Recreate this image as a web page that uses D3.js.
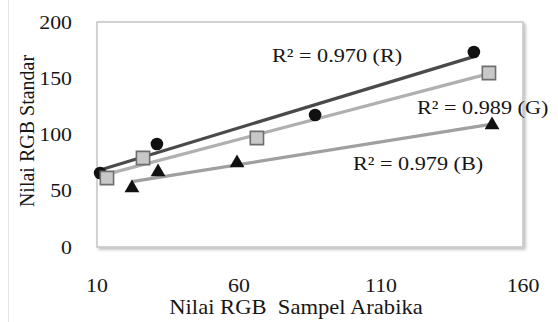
<!DOCTYPE html>
<html>
<head>
<meta charset="utf-8">
<script src="https://cdn.jsdelivr.net/npm/d3@7"></script>
<style>
  body { margin: 0; background: #fff; }
  text { font-family: "Liberation Serif", "Times New Roman", serif; fill: #161616; }
</style>
</head>
<body>
<div id="chart"></div>
<script>
'use strict';

// Data
const xR = [11.1, 31.1, 86.8, 142.7];
const yR = [65.8, 91.6, 117.3, 173.3];
const xG = [13.5, 26.2, 66.3, 148.0];
const yG = [61.3, 79.1, 96.9, 154.7];
const xB = [22.3, 31.5, 59.3, 149.1];
const yB = [52.4, 66.7, 74.7, 108.4];
const xTicks = [10, 60, 110, 160];
const yTicks = [0, 50, 100, 150, 200];
const r2Labels = ['R\u00b2 = 0.970 (R)', 'R\u00b2 = 0.989 (G)', 'R\u00b2 = 0.979 (B)'];

const w = 558, h = 322;
const box = {left: 97, top: 22, right: 523, bottom: 247};

const svg = d3.select('#chart').append('svg')
    .attr('width', w)
    .attr('height', h);

// Scales
const x = d3.scaleLinear().domain([10, 160]).range([box.left, box.right]);
const y = d3.scaleLinear().domain([0, 200]).range([box.bottom, box.top]);

// faint outer frame line on the left
svg.append('line')
    .attr('x1', 8.5).attr('x2', 8.5)
    .attr('y1', 0).attr('y2', h)
    .attr('stroke', '#e4e4e4');

// Plot box with shadow
const defs = svg.append('defs');
const f = defs.append('filter').attr('id', 'shadow')
    .attr('x', '-5%').attr('y', '-5%').attr('width', '115%').attr('height', '115%');
f.append('feDropShadow')
    .attr('dx', 2).attr('dy', 2)
    .attr('stdDeviation', 1.5)
    .attr('flood-color', '#000')
    .attr('flood-opacity', 0.25);

svg.append('rect')
    .attr('x', box.left)
    .attr('y', box.top)
    .attr('width', box.right - box.left)
    .attr('height', box.bottom - box.top)
    .attr('fill', '#fff')
    .attr('stroke', '#c4c4c4')
    .attr('stroke-width', 1.5)
    .attr('filter', 'url(#shadow)');

// Y tick labels (slightly wide glyphs, as in the picture)
svg.append('g').selectAll('text')
    .data(yTicks)
    .join('text')
    .attr('transform', d => `translate(72,${y(d)}) scale(1.15,1)`)
    .attr('dy', '0.35em')
    .attr('text-anchor', 'end')
    .style('font-size', '19px')
    .text(d => d);

// X tick labels
svg.append('g').selectAll('text')
    .data(xTicks)
    .join('text')
    .attr('transform', d => `translate(${x(d)},285) scale(1.15,1)`)
    .attr('dy', '0.35em')
    .attr('text-anchor', 'middle')
    .style('font-size', '19px')
    .text(d => d);

// Axis titles
svg.append('text')
    .attr('transform', 'translate(27,131) rotate(-90)')
    .attr('text-anchor', 'middle')
    .attr('dy', '0.35em')
    .style('font-size', '20px')
    .text('Nilai RGB Standar');

svg.append('text')
    .attr('transform', 'translate(296,307) scale(1.13,1)')
    .attr('dy', '0.35em')
    .attr('text-anchor', 'middle')
    .style('font-size', '20px')
    .style('white-space', 'pre')
    .text('Nilai RGB  Sampel Arabika');

// Least squares trend line
function fit(xs, ys) {
    const mx = d3.mean(xs), my = d3.mean(ys);
    const b = d3.sum(xs, (v, i) => (v - mx) * (ys[i] - my)) / d3.sum(xs, v => (v - mx) ** 2);
    const a = my - b * mx;
    const x0 = d3.min(xs), x1 = d3.max(xs);
    return [[x0, a + b * x0], [x1, a + b * x1]];
}

const series = [
    {xs: xR, ys: yR, line: '#4a4a4a', shape: 'circle'},
    {xs: xG, ys: yG, line: '#b0b0b0', shape: 'square'},
    {xs: xB, ys: yB, line: '#a0a0a0', shape: 'triangle'}
];

const lineGen = d3.line().x(d => x(d[0])).y(d => y(d[1]));

series.forEach(s => {
    svg.append('path')
        .attr('d', lineGen(fit(s.xs, s.ys)))
        .attr('fill', 'none')
        .attr('stroke', s.line)
        .attr('stroke-width', 3.2);
});

// Markers
const symbolFor = {
    circle: d3.symbol().type(d3.symbolCircle).size(125),
    square: d3.symbol().type(d3.symbolSquare).size(175),
    triangle: d3.symbol().type(d3.symbolTriangle).size(95)
};

series.forEach(s => {
    svg.append('g').selectAll('path')
        .data(s.xs.map((v, i) => [v, s.ys[i]]))
        .join('path')
        .attr('transform', d => `translate(${x(d[0])},${y(d[1])})`)
        .attr('d', symbolFor[s.shape]())
        .attr('fill', s.shape === 'square' ? '#c8c8c8' : '#111')
        .attr('stroke', s.shape === 'square' ? '#6e6e6e' : 'none')
        .attr('stroke-width', 1.6);
});

// R squared labels
const labelPos = [[272, 55], [417, 107], [353, 163]];
svg.append('g').selectAll('text')
    .data(r2Labels)
    .join('text')
    .attr('transform', (d, i) => `translate(${labelPos[i][0]},${labelPos[i][1]}) scale(1.17,1)`)
    .attr('dy', '0.35em')
    .style('font-size', '19px')
    .text(d => d);
</script>
</body>
</html>
